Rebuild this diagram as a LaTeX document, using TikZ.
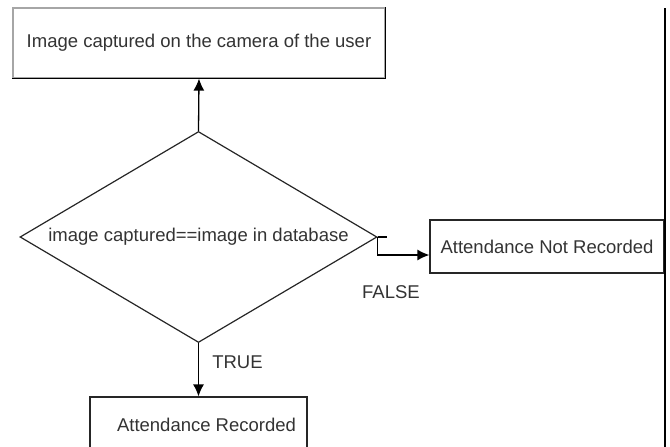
\documentclass[tikz,border=0pt]{standalone}
\usepackage{fontspec}
\setmainfont{Liberation Sans}
\usetikzlibrary{shapes.geometric,arrows.meta}
\begin{document}
\begin{tikzpicture}[x=1pt,y=-1pt,
  every node/.style={font=\fontsize{18.5}{22}\selectfont, text=black!80},
  box/.style={draw=black!85, line width=1.2pt, inner sep=0pt},
  cond/.style={diamond, draw=black!85, line width=1.2pt, inner sep=0pt, aspect=1.69, minimum width=357pt, minimum height=211pt},
  flow/.style={draw=black, line width=1.3pt, -{Latex[length=12pt,width=11pt]}}]
\useasboundingbox (0,0) rectangle (670,447);
\clip (0,0) rectangle (670,447);
\node [box, draw=black!35, minimum width=372pt, minimum height=70pt] (cam) at (199,43) {Image captured on the camera of the user};
\draw [line width=1.5pt] (cam.south west) -- (cam.south east) -- (cam.north east);
\node [cond] (dec) at (198.5,237) {image captured==image in database};
\node [box, minimum width=234pt, minimum height=53pt] (nr) at (547,246.5) {Attendance Not Recorded};
\node [box, minimum width=217pt, minimum height=56pt] (rec) at (198.5,425) {\hspace*{16pt}Attendance Recorded};
\draw [flow] (dec.north) -- (cam.south);
\draw [flow] (dec.south) -- (rec.north);
\draw [line width=1.3pt] (dec.east) -- ++(9,0);
\draw [flow] (dec.east) |- ([yshift=-8.5pt]nr.west);
\node (false) at (391,292) {FALSE};
\node (true) at (237.5,362) {TRUE};
\draw [line width=1.5pt] (665,8) -- (665,447);
\end{tikzpicture}
\end{document}
